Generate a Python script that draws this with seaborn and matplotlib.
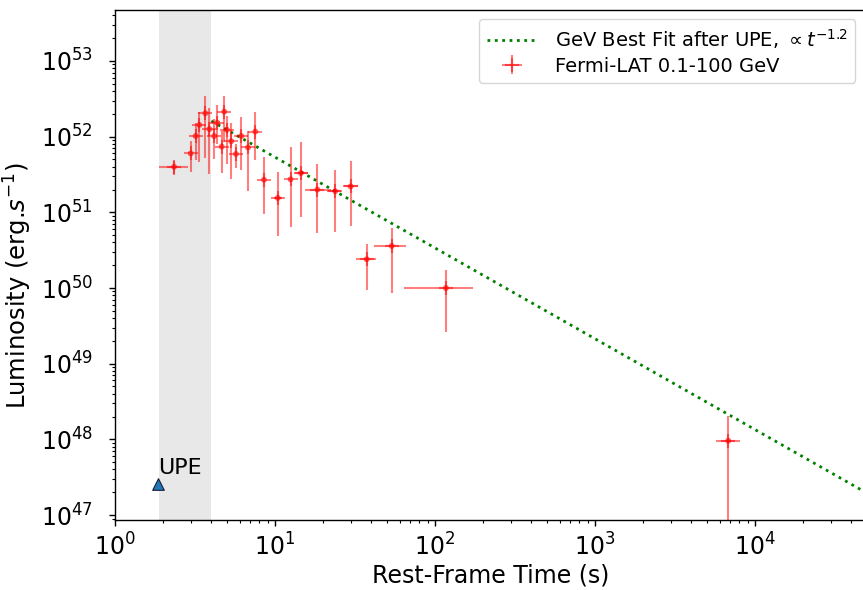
import numpy as np
import pandas as pd
import matplotlib
matplotlib.use("Agg")
import matplotlib.pyplot as plt
import seaborn as sns

# ---- data ----
t = [2.34, 2.97, 3.19, 3.37, 3.67, 3.89, 4.17, 4.36, 4.64, 4.82, 5.01, 5.33,
     5.70, 6.16, 6.78, 7.53, 8.53, 10.4, 12.5, 14.5, 18.4, 23.8, 29.7, 37.4,
     53.6, 117.0, 6810.0]
t_lo = [1.88, 2.97, 3.19, 3.37, 3.67, 3.89, 4.17, 4.36, 4.64, 4.82, 5.01, 5.33,
        5.70, 6.16, 6.78, 7.53, 8.53, 9.8, 12.5, 13.4, 15.5, 21.0, 26.6, 32.1,
        41.7, 64.0, 5700.0]
t_hi = [2.87, 2.97, 3.19, 3.37, 3.67, 3.89, 4.17, 4.36, 4.64, 4.82, 5.01, 5.33,
        5.70, 6.16, 6.78, 7.53, 8.53, 11.0, 12.5, 16.0, 22.4, 26.0, 33.0, 42.8,
        66.0, 174.0, 8050.0]
L = [4.0e51, 6.0e51, 1.02e52, 1.43e52, 2.04e52, 1.26e52, 1.02e52, 1.53e52,
     7.4e51, 2.14e52, 1.23e52, 8.7e51, 5.9e51, 1.02e52, 7.2e51, 1.17e52,
     2.7e51, 1.55e51, 2.73e51, 3.3e51, 2.0e51, 1.9e51, 2.2e51, 2.4e50,
     3.6e50, 1.0e50, 9.6e47]
L_lo = [3.1e51, 3.4e51, 4.9e51, 4.6e51, 5.2e51, 3.2e51, 5.0e51, 8.0e51,
        3.3e51, 8.5e51, 4.4e51, 2.8e51, 3.8e51, 3.6e51, 1.9e51, 4.9e51,
        9.5e50, 4.8e50, 6.5e50, 8.6e50, 5.4e50, 5.5e50, 6.6e50, 9.3e49,
        8.5e49, 2.6e49, 5.0e46]
L_hi = [4.8e51, 8.7e51, 1.5e52, 2.1e52, 3.5e52, 2.4e52, 1.7e52, 2.6e52,
        1.2e52, 3.5e52, 1.9e52, 1.5e52, 8.0e51, 1.8e52, 1.2e52, 2.1e52,
        5.4e51, 3.4e51, 7.3e51, 8.5e51, 4.3e51, 3.6e51, 4.7e51, 3.8e50,
        6.2e50, 1.75e50, 2.05e48]

fit_norm = 8.5e52      # L(t=1 s)
fit_index = -1.2
fit_t = [4.0, 5.0e4]

upe_t = [1.86]
upe_L = [2.6e47]

span = (1.88, 4.0)

# ---- figure ----
sns.set_style("ticks")
plt.rcParams['font.family'] = ['DejaVu Sans']
plt.rcParams['mathtext.fontset'] = 'dejavusans'
for k in ['text.color', 'axes.labelcolor', 'xtick.color', 'ytick.color', 'axes.edgecolor']:
    plt.rcParams[k] = 'black'

fig = plt.figure(figsize=(8.63, 5.90), dpi=100)
ax = fig.add_axes([115/863, 70/590, (160*4.699)/863, 510/590])

ax.set_xscale('log')
ax.set_yscale('log')

ax.axvspan(span[0], span[1], color='#d9d9d9', alpha=0.6, lw=0, zorder=0)

fit_df = pd.DataFrame({'t': np.geomspace(fit_t[0], fit_t[1], 200)})
fit_df['L'] = fit_norm * fit_df['t'] ** fit_index
sns.lineplot(data=fit_df, x='t', y='L', ax=ax, color='green', lw=2.0,
             linestyle=':', label=r'GeV Best Fit after UPE, $\propto t^{-1.2}$',
             zorder=3)

t_a = np.array(t); L_a = np.array(L)
xerr = [t_a - np.array(t_lo), np.array(t_hi) - t_a]
yerr = [L_a - np.array(L_lo), np.array(L_hi) - L_a]
ax.errorbar(t_a, L_a, xerr=xerr, yerr=yerr, fmt='+', color='red', alpha=0.5,
            ms=10, elinewidth=1.5, mew=1.5, label='Fermi-LAT 0.1-100 GeV', zorder=4)
pts = pd.DataFrame({'t': t_a, 'L': L_a})
sns.scatterplot(data=pts, x='t', y='L', ax=ax, color='red', alpha=0.6, s=18,
                edgecolor='none', legend=False, zorder=5)

sns.scatterplot(x=upe_t, y=upe_L, ax=ax, marker='^', s=70, color='#1f77b4',
                edgecolor='#1a1a3a', linewidth=0.8, legend=False, zorder=6)
ax.text(upe_t[0] * 1.0, upe_L[0] * 1.2, 'UPE', fontsize=16, va='bottom', ha='left')

ax.set_xlim(1, 5e4)
ax.set_ylim(8.6e46, 4.72e53)
ax.set_yticks([10.0 ** k for k in range(47, 54)])
ax.yaxis.set_minor_locator(matplotlib.ticker.LogLocator(base=10, subs=np.arange(2, 10), numticks=20))
ax.xaxis.set_minor_locator(matplotlib.ticker.LogLocator(base=10, subs=np.arange(2, 10), numticks=20))
ax.yaxis.set_minor_formatter(matplotlib.ticker.NullFormatter())
ax.xaxis.set_minor_formatter(matplotlib.ticker.NullFormatter())

ax.tick_params(axis='both', which='major', labelsize=17, length=4, width=1, direction='out')
ax.tick_params(axis='y', which='major', pad=12)
ax.tick_params(axis='x', which='major', pad=6)
ax.tick_params(axis='both', which='minor', length=2.5, width=0.8, direction='out')
for s in ax.spines.values():
    s.set_linewidth(1.0)
    s.set_color('black')

ax.set_xlabel('Rest-Frame Time (s)', fontsize=17, labelpad=2)
ax.set_ylabel(r'Luminosity (erg.$s^{-1}$)', fontsize=17.5)
ax.yaxis.set_label_coords(-0.108, 0.46)

ax.legend(loc='upper right', fontsize=14, frameon=True, fancybox=True,
          bbox_to_anchor=(0.99, 0.99), borderaxespad=0.2, handlelength=2.6,
          labelspacing=0.3, handletextpad=0.9)

fig.savefig('out.png', dpi=100)
